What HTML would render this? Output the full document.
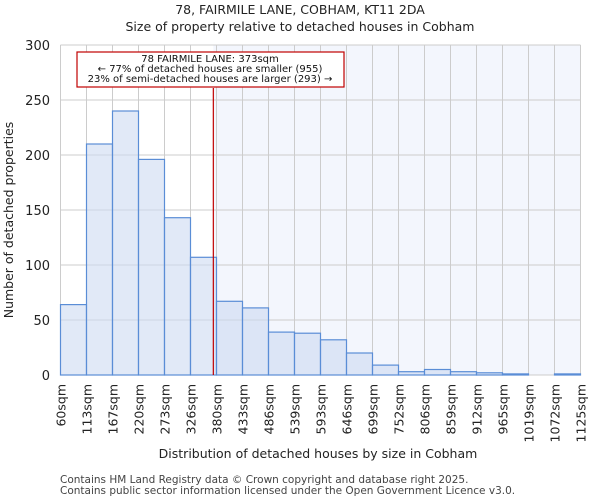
<!DOCTYPE html>
<html><head><meta charset="utf-8"><style>
body{margin:0;background:#fff;font-family:"DejaVu Sans","Liberation Sans",sans-serif}
</style></head><body>
<svg id="c" width="600" height="500" xmlns="http://www.w3.org/2000/svg" font-family="DejaVu Sans, Liberation Sans, sans-serif">
<text x="300" y="14" text-anchor="middle" font-size="12.5" fill="#222">78, FAIRMILE LANE, COBHAM, KT11 2DA</text>
<text x="300" y="31" text-anchor="middle" font-size="12.5" fill="#222">Size of property relative to detached houses in Cobham</text>
<g id="plot"></g>
<text x="318" y="458" text-anchor="middle" font-size="12.5" fill="#222">Distribution of detached houses by size in Cobham</text>
<text transform="translate(13,220) rotate(-90)" text-anchor="middle" font-size="12.5" fill="#222">Number of detached properties</text>
<text x="60" y="483" font-size="10.5" fill="#444">Contains HM Land Registry data © Crown copyright and database right 2025.</text>
<text x="60" y="494" font-size="10.5" fill="#444">Contains public sector information licensed under the Open Government Licence v3.0.</text>
</svg>
<script>
const categories=["60sqm","113sqm","167sqm","220sqm","273sqm","326sqm","380sqm","433sqm","486sqm","539sqm","593sqm","646sqm","699sqm","752sqm","806sqm","859sqm","912sqm","965sqm","1019sqm","1072sqm","1125sqm"];
const counts=[64,210,240,196,143,107,67,61,39,38,32,20,9,3,5,3,2,1,0,1];
const yTicks=[0,50,100,150,200,250,300];
const binStart=60, binWidth=53.25, propertySize=373;
const X0=60.5,X1=580.5,Y0=375,Y1=45,YMAX=300;
const ns="http://www.w3.org/2000/svg";
const g=document.getElementById('plot');
function xs(i){return X0+i*(X1-X0)/counts.length;}
function xv(v){return X0+(v-binStart)/binWidth*(X1-X0)/counts.length;}
function ys(v){return Y0-v/YMAX*(Y0-Y1);}
function mk(t,a){const e=document.createElementNS(ns,t);for(const k in a)e.setAttribute(k,a[k]);g.appendChild(e);return e;}
const lx=xv(propertySize);
let e=mk('rect',{x:lx,y:Y1,width:X1-lx,height:Y0-Y1,fill:'#f3f6fd'});


for(let i=0;i<=categories.length-1;i++){
  e=mk('line',{x1:xs(i),x2:xs(i),y1:Y1,y2:Y0,stroke:'#cccccc','stroke-width':1});
  
  
}
yTicks.forEach(t=>{
  e=mk('line',{x1:X0,x2:X1,y1:ys(t),y2:ys(t),stroke:'#cccccc','stroke-width':1});
  
  
  e=mk('text',{x:50,y:ys(t)+5,'text-anchor':'end','font-size':13,fill:'#222'});
  e.textContent=t;
  
  
});
counts.forEach((c,i)=>{
  e=mk('rect',{x:xs(i),y:ys(c),width:xs(i+1)-xs(i),height:Y0-ys(c),fill:'rgba(205,219,241,0.6)',stroke:'#5a8dd6','stroke-width':1.2});
  
  
});
categories.forEach((c,i)=>{
  const x=xs(i)+5;
  e=mk('text',{transform:`translate(${x},384) rotate(-90)`,'text-anchor':'end','font-size':12.5,fill:'#222'});
  e.textContent=c;
  
  
});
e=mk('line',{x1:lx,x2:lx,y1:Y1+43,y2:Y0,stroke:'#c00000','stroke-width':1.2});


e=mk('rect',{x:77,y:52,width:267,height:35,fill:'#fff',stroke:'#c00000','stroke-width':1.2});


const lines=["78 FAIRMILE LANE: 373sqm","← 77% of detached houses are smaller (955)","23% of semi-detached houses are larger (293) →"];
lines.forEach((l,i)=>{
  e=mk('text',{x:210,y:62+i*10,'text-anchor':'middle','font-size':10,fill:'#111'});
  e.textContent=l;
  
  
});
</script>
</body></html>
